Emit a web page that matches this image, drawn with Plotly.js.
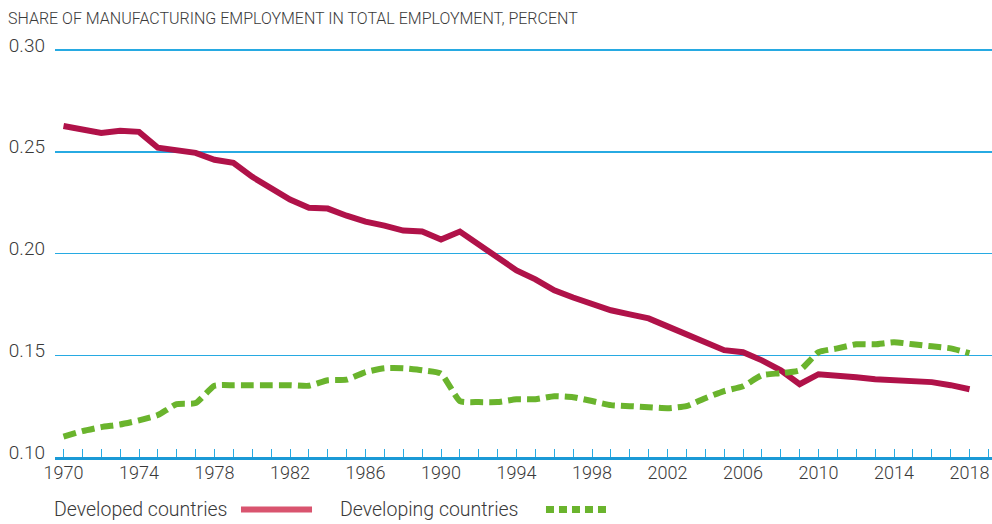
<!DOCTYPE html>
<html>
<head>
<meta charset="utf-8">
<script src="https://cdn.plot.ly/plotly-3.0.1.min.js"></script>
<style>html,body{margin:0;padding:0;background:#fff;}#chart{width:992px;height:524px;}</style>
</head>
<body>
<div id="chart"></div>
<script>
const years = [];
for (let y = 1970; y <= 2018; y++) years.push(y);

const developed = [
  0.2627, 0.2613, 0.2593, 0.2603, 0.2598, 0.2520, 0.2510, 0.2495, 0.2461, 0.2446,
  0.2377, 0.2324, 0.2265, 0.2225, 0.2221, 0.2186, 0.2157, 0.2137, 0.2113, 0.2108,
  0.2069, 0.2108, 0.2044, 0.1975, 0.1917, 0.1873, 0.1819, 0.1784, 0.1755, 0.1721,
  0.1701, 0.1681, 0.1642, 0.1603, 0.1564, 0.1525, 0.1515, 0.1475, 0.1426, 0.1358,
  0.1407, 0.1402, 0.1392, 0.1382, 0.1377, 0.1373, 0.1368, 0.1353, 0.1333
];

const developing = [
  0.1100, 0.1127, 0.1147, 0.1160, 0.1180, 0.1206, 0.1260, 0.1265, 0.1350, 0.1353,
  0.1353, 0.1353, 0.1353, 0.1350, 0.1377, 0.1380, 0.1417, 0.1436, 0.1436, 0.1426,
  0.1410, 0.1275, 0.1270, 0.1270, 0.1284, 0.1284, 0.1299, 0.1294, 0.1275, 0.1255,
  0.1250, 0.1245, 0.1240, 0.1250, 0.1289, 0.1324, 0.1348, 0.1402, 0.1412, 0.1426,
  0.1515, 0.1534, 0.1554, 0.1554, 0.1564, 0.1554, 0.1544, 0.1534, 0.1510
];

const seriesNames = ['Developed countries', 'Developing countries'];
const yTickVals = [0.10, 0.15, 0.20, 0.25, 0.30];
const yTickText = ['0.10', '0.15', '0.20', '0.25', '0.30'];
const chartTitle = 'SHARE OF MANUFACTURING EMPLOYMENT IN TOTAL EMPLOYMENT, PERCENT';

const FONT = 'Roboto, sans-serif';
const W = 300;
const TXT = '#3a3a3a';
const BLUE = '#27aae2';
const RED = '#b01249';
const RED_LEG = '#d9546f';
const GREEN = '#6ab42d';
const LEG_Y = -0.128;

const traces = [
  {x: years, y: developed, name: seriesNames[0], type: 'scatter', mode: 'lines',
   line: {color: RED, width: 6, shape: 'linear'}, showlegend: false},
  {x: years, y: developing, name: seriesNames[1], type: 'scatter', mode: 'lines',
   line: {color: GREEN, width: 6, dash: '13px,6px', shape: 'spline', smoothing: 0.5}, showlegend: false}
];

const layout = {
  width: 992, height: 524,
  margin: {l: 55, r: 0, t: 46, b: 67},
  paper_bgcolor: '#fff', plot_bgcolor: '#fff',
  font: {family: FONT, color: TXT, size: 18, weight: W},
  title: {text: chartTitle, x: 8/992, xanchor: 'left', xref: 'container',
          y: 1 - 18/524, yanchor: 'middle', yref: 'container',
          font: {family: FONT, size: 16, color: TXT, weight: W}},
  xaxis: {
    range: [1969.55, 2019.19], tick0: 1970, dtick: 4,
    ticks: 'inside', ticklen: 8, tickcolor: BLUE, tickwidth: 1,
    minor: {dtick: 1, tick0: 1970, ticks: 'inside', ticklen: 8, tickcolor: BLUE, tickwidth: 1, showgrid: false},
    showgrid: false, zeroline: false,
    showline: true, linecolor: '#1b9ad6', linewidth: 3,
    ticklabelstandoff: -3,
    tickfont: {family: FONT, size: 18, color: TXT, weight: W}
  },
  yaxis: {
    range: [0.10, 0.302], tickvals: yTickVals, ticktext: yTickText,
    showgrid: true, gridcolor: BLUE, gridwidth: 1.5, zeroline: false,
    showline: false, ticks: '', ticklabelstandoff: 9, ticklabelshift: -5,
    tickfont: {family: FONT, size: 19, color: TXT, weight: W}
  },
  showlegend: false,
  annotations: [
    {text: seriesNames[0], xref: 'paper', yref: 'paper', x: -3/937, y: LEG_Y,
     xanchor: 'left', yanchor: 'middle', showarrow: false, font: {family: FONT, size: 19.5, color: TXT, weight: W}},
    {text: seriesNames[1], xref: 'paper', yref: 'paper', x: 0.3020, y: LEG_Y,
     xanchor: 'left', yanchor: 'middle', showarrow: false, font: {family: FONT, size: 19.5, color: TXT, weight: W}}
  ],
  shapes: [
    {type: 'line', xref: 'paper', yref: 'paper', x0: 0.1985, x1: 0.2743, y0: LEG_Y, y1: LEG_Y,
     line: {color: RED_LEG, width: 6}},
    {type: 'line', xref: 'paper', yref: 'paper', x0: 0.524, x1: 0.590, y0: LEG_Y, y1: LEG_Y,
     line: {color: GREEN, width: 7, dash: '8px,5px'}}
  ]
};

Plotly.newPlot('chart', traces, layout, {displayModeBar: false, staticPlot: true});
</script>
</body>
</html>
